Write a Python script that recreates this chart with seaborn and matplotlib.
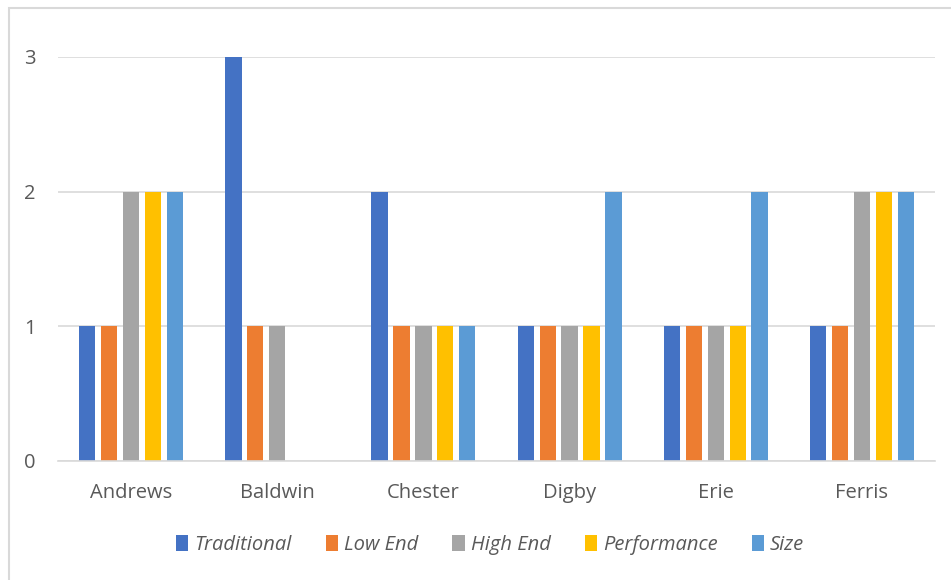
import matplotlib
matplotlib.use("Agg")
import matplotlib.pyplot as plt
import seaborn as sns
import pandas as pd
from matplotlib.patches import Rectangle

companies = ["Andrews", "Baldwin", "Chester", "Digby", "Erie", "Ferris"]
segments = ["Traditional", "Low End", "High End", "Performance", "Size"]
traditional = [1, 3, 2, 1, 1, 1]
low_end = [1, 1, 1, 1, 1, 1]
high_end = [2, 1, 1, 1, 1, 2]
performance = [2, 0, 1, 1, 1, 2]
size = [2, 0, 1, 2, 2, 2]
palette = ["#4472C4", "#ED7D31", "#A5A5A5", "#FFC000", "#5B9BD5"]

series = [traditional, low_end, high_end, performance, size]
df = pd.DataFrame(
    [(c, s, v) for s, vals in zip(segments, series) for c, v in zip(companies, vals)],
    columns=["company", "segment", "count"],
)

sns.set_theme(style="white")
plt.rcParams["font.family"] = ["Open Sans", "DejaVu Sans"]

fig = plt.figure(figsize=(9.51, 5.8), dpi=100)
ax = fig.add_axes([58 / 951, 1 - 461 / 580, (935 - 58) / 951, (461 - 57) / 580])

sns.barplot(data=df, x="company", y="count", hue="segment", hue_order=segments,
            palette=palette, width=0.75, saturation=1, ax=ax, legend=True,
            linewidth=0, edgecolor="none")

# narrow each bar so a white gap separates neighbours within a cluster
for p in ax.patches:
    w = p.get_width()
    if w <= 0:
        continue
    cx = p.get_x() + w / 2
    nw = w * 0.74
    p.set_x(cx - nw / 2)
    p.set_width(nw)
    p.set_linewidth(0)

ax.set_ylim(0, 3)
ax.set_xlim(-0.5, 5.5)
ax.set_yticks([0, 1, 2, 3])
ax.yaxis.grid(True, color="#D9D9D9", linewidth=1.2)
ax.set_axisbelow(True)
for s in ["top", "right", "left"]:
    ax.spines[s].set_visible(False)
ax.spines["bottom"].set_color("#D9D9D9")
ax.spines["bottom"].set_linewidth(1.2)
ax.set_xlabel("")
ax.set_ylabel("")
ax.tick_params(axis="both", length=0, labelsize=14.5, labelcolor="#595959")
ax.tick_params(axis="y", pad=16)
ax.tick_params(axis="x", pad=16)

handles, labels = ax.get_legend_handles_labels()
ax.legend_.remove()
fig.legend(handles, labels, loc="center", bbox_to_anchor=(490 / 951, 1 - 545 / 580),
           ncol=5, frameon=False, handlelength=0.6, handleheight=0.85,
           handletextpad=0.3, columnspacing=1.7,
           prop={"style": "italic", "size": 14.5}, labelcolor="#595959")

# chart frame
fig.patches.append(Rectangle((9 / 951, -0.1), 1.2, 1 - 8 / 580 + 0.1,
                             transform=fig.transFigure, fill=False,
                             edgecolor="#D9D9D9", linewidth=1.5))

fig.savefig("out.png", dpi=100)
